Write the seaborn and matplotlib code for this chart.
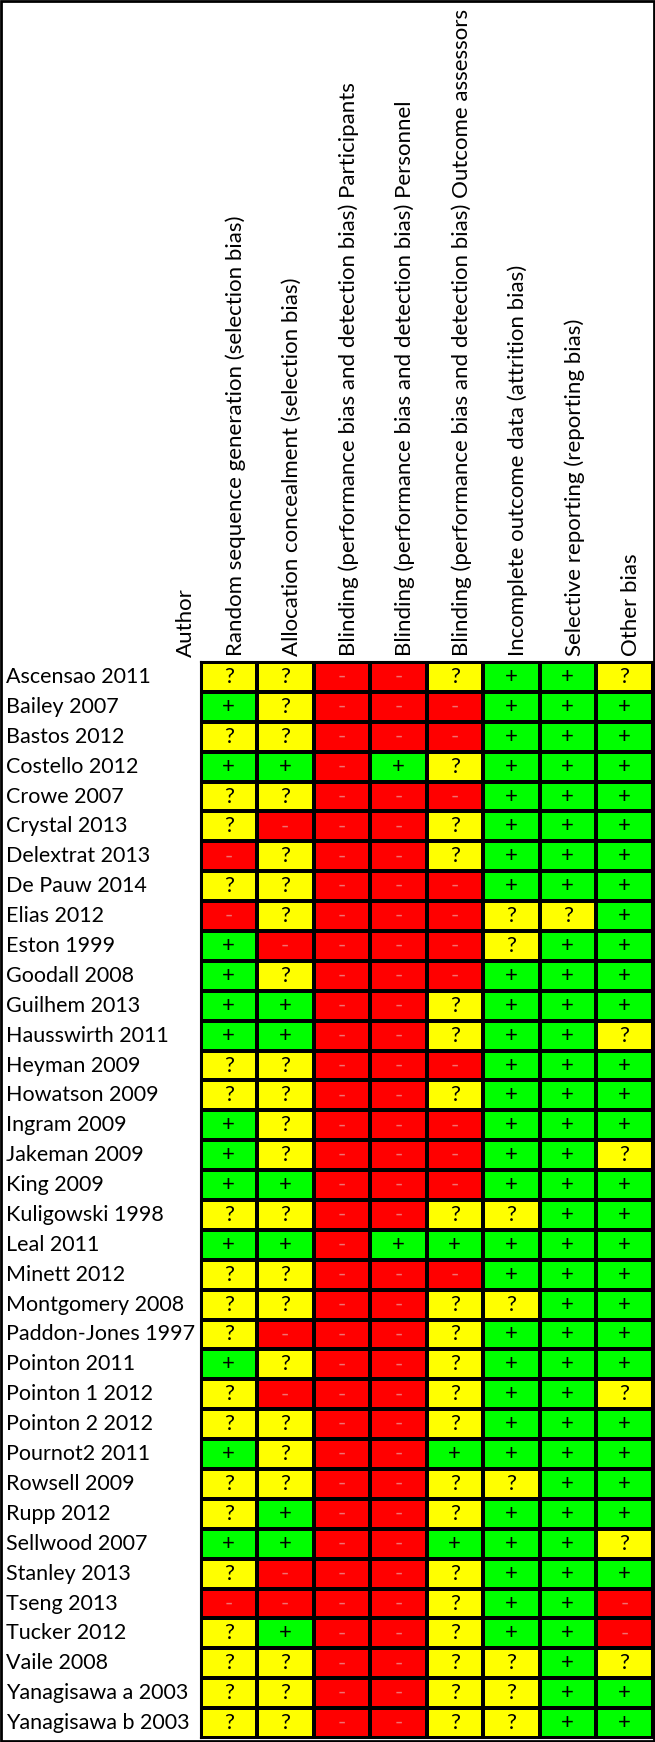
import numpy as np
import pandas as pd
import matplotlib
matplotlib.use("Agg")
import matplotlib.pyplot as plt
import matplotlib.transforms as mtransforms
from matplotlib.colors import ListedColormap
from matplotlib.patches import Rectangle
import seaborn as sns

authors = [
    "Ascensao 2011", "Bailey 2007", "Bastos 2012", "Costello 2012", "Crowe 2007",
    "Crystal 2013", "Delextrat 2013", "De Pauw 2014", "Elias 2012", "Eston 1999",
    "Goodall 2008", "Guilhem 2013", "Hausswirth 2011", "Heyman 2009", "Howatson 2009",
    "Ingram 2009", "Jakeman 2009", "King 2009", "Kuligowski 1998", "Leal 2011",
    "Minett 2012", "Montgomery 2008", "Paddon-Jones 1997", "Pointon 2011",
    "Pointon 1 2012", "Pointon 2 2012", "Pournot2 2011", "Rowsell 2009", "Rupp 2012",
    "Sellwood 2007", "Stanley 2013", "Tseng 2013", "Tucker 2012", "Vaile 2008",
    "Yanagisawa a 2003", "Yanagisawa b 2003",
]

domains = [
    "Random sequence generation (selection bias)",
    "Allocation concealment (selection bias)",
    "Blinding (performance bias and detection bias) Participants",
    "Blinding (performance bias and detection bias) Personnel",
    "Blinding (performance bias and detection bias) Outcome assessors",
    "Incomplete outcome data (attrition bias)",
    "Selective reporting (reporting bias)",
    "Other bias",
]

# one string per study, one symbol per domain
ratings = [
    "??--?++?", "+?---+++", "??---+++", "++-+?+++", "??---+++",
    "?---?+++", "-?--?+++", "??---+++", "-?---??+", "+----?++",
    "+?---+++", "++--?+++", "++--?++?", "??---+++", "??--?+++",
    "+?---+++", "+?---++?", "++---+++", "??--??++", "++-+++++",
    "??---+++", "??--??++", "?---?+++", "+?--?+++",
    "?---?++?", "??--?+++", "+?--++++", "??--??++", "?+--?+++",
    "++--+++?", "?---?+++", "----?++-", "?+--?++-", "??--??+?",
    "??--??++", "??--??++",
]

code = {"-": 0, "?": 1, "+": 2}
labels = np.array([list(r) for r in ratings])
values = pd.DataFrame(np.vectorize(code.get)(labels), index=authors, columns=domains)

plt.rcParams["font.family"] = ["Lato", "DejaVu Sans"]
head_fs = 16.0
name_fs = 15.5

W, H = 655, 1742
fig = plt.figure(figsize=(W / 100, H / 100), dpi=100)
ax = fig.add_axes([200.5 / W, 4 / H, 452 / W, 1076 / H])

cmap = ListedColormap(["#ff0000", "#ffff00", "#00ff00"])
sns.heatmap(values, ax=ax, cmap=cmap, vmin=0, vmax=2, cbar=False,
            annot=labels, fmt="", annot_kws={"size": 16},
            linewidths=1.5, linecolor="black")

for t in ax.texts:
    t.set_color("#f07070" if t.get_text() == "-" else "black")

for s in ax.spines.values():
    s.set_visible(True)
    s.set_linewidth(1.5)
    s.set_color("black")

# column headers on top, rotated
ax.xaxis.tick_top()
ax.set_xticklabels(domains, rotation=90, ha="center", va="bottom", fontsize=head_fs)
ax.tick_params(axis="x", length=0, pad=4)
shift = mtransforms.ScaledTranslation(5 / 72, 0, fig.dpi_scale_trans)
for lbl in ax.get_xticklabels():
    lbl.set_transform(lbl.get_transform() + shift)

# study names, left aligned near the frame
ax.set_yticklabels(authors, rotation=0, ha="left", va="center", fontsize=name_fs)
ax.tick_params(axis="y", length=0, pad=(200.5 - 6) * 0.72)
ax.set_xlabel("")
ax.set_ylabel("")

fig.text(186 / W, 1 - 657 / H, "Author", rotation=90, ha="center", va="bottom",
         fontsize=head_fs)

fig.patches.append(Rectangle((0.0015, 0.0006), 0.997, 0.9988, transform=fig.transFigure,
                             fill=False, lw=2, ec="black"))

fig.savefig("out.png", dpi=100)
